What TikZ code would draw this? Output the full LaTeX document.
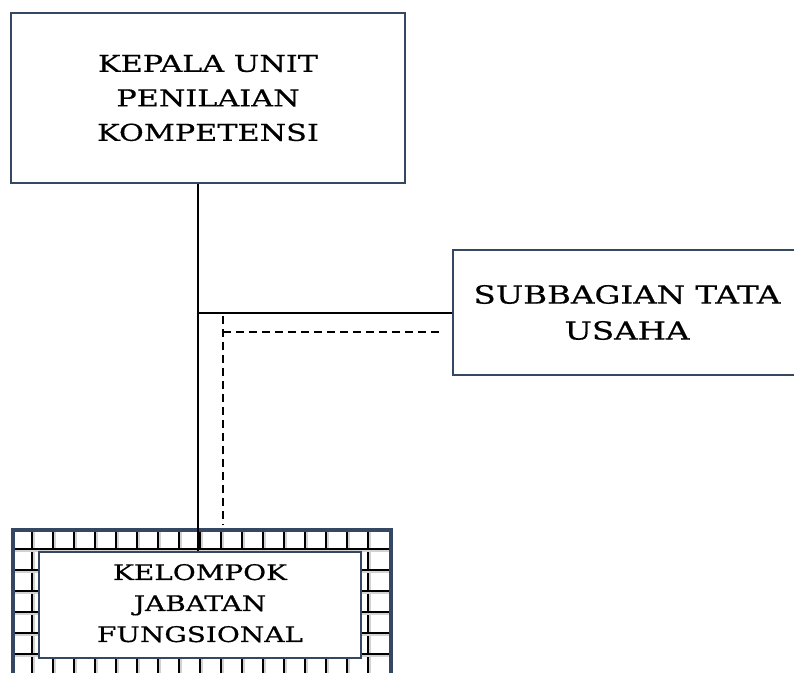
\documentclass[tikz,border=0pt]{standalone}
\usepackage{fontspec}
\setmainfont{DejaVu Serif}[FakeStretch=1.3,FakeBold=0.6]
\definecolor{navy}{RGB}{52,72,100}
\begin{document}
\begin{tikzpicture}[x=1pt,y=-1pt,
  box/.style={draw=navy, line width=2pt, fill=white, align=center, inner sep=0pt},
  conn/.style={line width=1.6pt},
  dconn/.style={line width=1.6pt, dash pattern=on 8pt off 5pt},
  gridline/.style={line width=2.2pt},
  gridshade/.style={line width=1.6pt, gray!35}]
\useasboundingbox (0,0) rectangle (794,672);
\clip (0,0) rectangle (794,672);
% top box
\node[box, minimum width=394pt, minimum height=170pt,
  font=\fontsize{23.3}{34.5}\selectfont] (kepala) at (208,98)
  {KEPALA UNIT\\PENILAIAN\\KOMPETENSI};
% right box (cut off by the page edge)
\node[box, minimum width=348pt, minimum height=125pt,
  font=\fontsize{25}{36}\selectfont] (subbag) at (627,312.5)
  {SUBBAGIAN TATA\\USAHA};
% grid frame
\begin{scope}
  \clip (11,528) rectangle (389,700);
  \foreach \i in {1,...,17} {
    \draw[gridshade] (11+21*\i+2,528) -- ++(0,170);
    \draw[gridline] (11+21*\i,528) -- ++(0,170);
  }
  \foreach \j in {1,...,7} {
    \draw[gridshade] (11,528+21*\j+2) -- ++(378,0);
    \draw[gridline] (11,528+21*\j) -- ++(378,0);
  }
\end{scope}
\node[draw=navy, line width=3.5pt, minimum width=378pt, minimum height=170pt,
  inner sep=0pt, anchor=north west] (frame) at (11,528) {};
\node[box, minimum width=322pt, minimum height=106pt,
  font=\fontsize{21.5}{31}\selectfont] (kelompok) at (200,605)
  {KELOMPOK\\JABATAN\\FUNGSIONAL\rule[-4pt]{0pt}{0pt}};
% connectors
\coordinate (j) at (198,313);
\draw[conn] (kepala.south -| j) -- (kelompok.north -| j);
\draw[conn] (j) -- (subbag.west |- j);
\coordinate (dtop) at (223,316);
\coordinate (dc) at (223,332);
\coordinate (de) at (442,332);
\coordinate (db) at (223,525);
\draw[dconn] (dtop) -- (db);
\draw[dconn] (dc) -- (de);
\end{tikzpicture}
\end{document}
